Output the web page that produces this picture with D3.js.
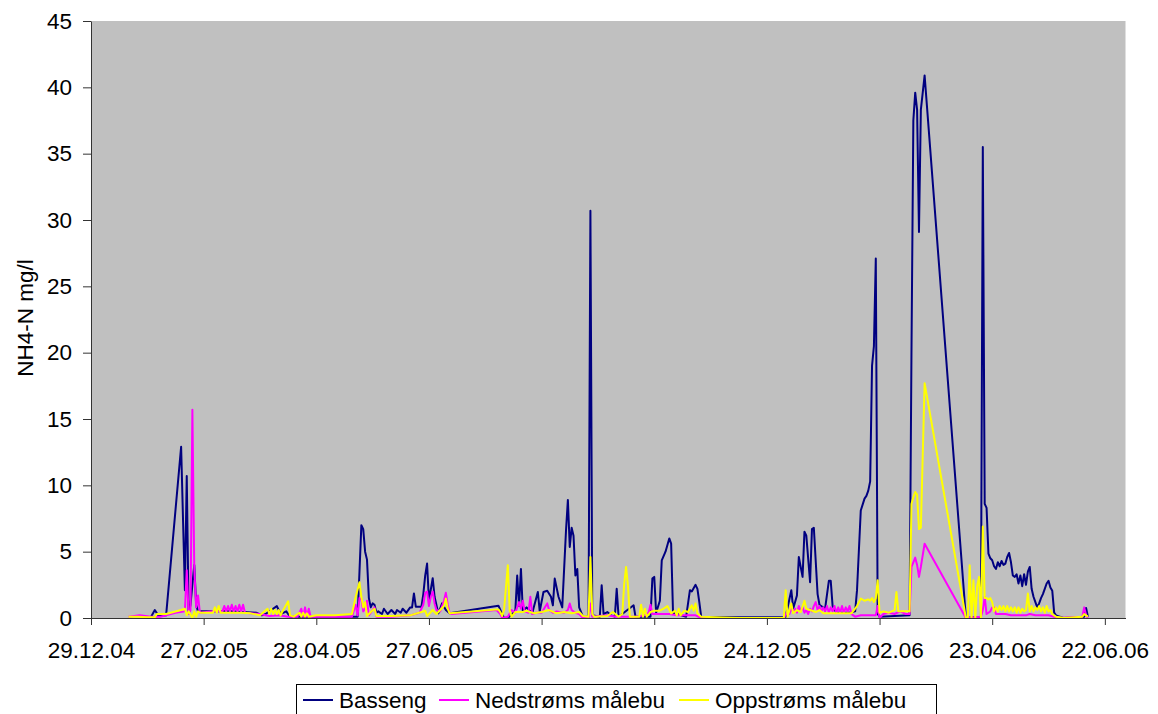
<!DOCTYPE html>
<html lang="no">
<head>
    <meta charset="UTF-8">
    <title>NH4-N</title>
    <script src="https://cdn.jsdelivr.net/npm/d3@7"></script>
    <style>
        body { margin: 0; background: #fff; }
        text { font-family: "Liberation Sans", Arial, sans-serif; fill: #000; }
    </style>
</head>
<body>
<script>

    const width = 1158;
    const height = 714;

    const seriesNames = ["Basseng", "Nedstrøms målebu", "Oppstrøms målebu"];
    const seriesColors = ["#000080", "#FF00FF", "#FFFF00"];

    const tickLabels = ["29.12.04", "27.02.05", "28.04.05", "27.06.05", "26.08.05",
        "25.10.05", "24.12.05", "22.02.06", "23.04.06", "22.06.06"];
    const yTicks = [0, 5, 10, 15, 20, 25, 30, 35, 40, 45];
    const dateRange = ["29.12.04", "03.07.06"];

    const basseng = [
        ["30.01.05",0.1],["01.02.05",0.6],["03.02.05",0.15],["07.02.05",0.2],["15.02.05",12.9],
        ["17.02.05",2.1],["18.02.05",10.7],["19.02.05",0.3],["20.02.05",1.0],["22.02.05",4.0],
        ["23.02.05",1.0],["24.02.05",0.5],["13.03.05",0.5],["27.03.05",0.4],["30.03.05",0.2],
        ["01.04.05",0.3],["04.04.05",0.6],["07.04.05",0.9],["09.04.05",0.3],["12.04.05",0.5],
        ["14.04.05",0.1],["20.04.05",0.1],["18.05.05",0.1],["20.05.05",0.1],["21.05.05",3.5],
        ["22.05.05",7.0],["23.05.05",6.7],["24.05.05",5.0],["25.05.05",4.4],["26.05.05",1.5],
        ["27.05.05",0.8],["28.05.05",1.1],["29.05.05",1.0],["30.05.05",0.4],["31.05.05",0.5],
        ["02.06.05",0.3],["03.06.05",0.7],["05.06.05",0.3],["07.06.05",0.6],["09.06.05",0.3],
        ["10.06.05",0.6],["12.06.05",0.4],["13.06.05",0.7],["15.06.05",0.4],["17.06.05",0.8],
        ["18.06.05",0.8],["19.06.05",1.85],["20.06.05",0.85],["23.06.05",0.85],["24.06.05",1.8],
        ["25.06.05",3.2],["26.06.05",4.1],["27.06.05",1.3],["29.06.05",3.0],["30.06.05",1.6],
        ["02.07.05",0.35],["04.07.05",1.1],["06.07.05",0.6],["08.07.05",0.35],["03.08.05",0.93],
        ["05.08.05",0.3],["06.08.05",0.0],["08.08.05",0.0],["12.08.05",0.5],["13.08.05",3.2],
        ["14.08.05",0.9],["15.08.05",3.7],["16.08.05",0.5],["18.08.05",0.8],["21.08.05",0.35],
        ["24.08.05",1.96],["25.08.05",0.5],["27.08.05",1.96],["29.08.05",2.05],["31.08.05",1.6],
        ["01.09.05",0.95],["02.09.05",2.97],["04.09.05",1.6],["06.09.05",0.8],["08.09.05",6.6],
        ["09.09.05",8.9],["10.09.05",5.35],["11.09.05",6.8],["12.09.05",6.2],["13.09.05",3.2],
        ["14.09.05",3.7],["15.09.05",0.8],["17.09.05",0.1],["20.09.05",0.1],["21.09.05",30.7],
        ["22.09.05",0.2],["26.09.05",0.1],["27.09.05",2.47],["28.09.05",0.3],["30.09.05",0.45],
        ["02.10.05",0.2],["04.10.05",0.1],["05.10.05",2.2],["06.10.05",0.1],["14.10.05",0.96],
        ["15.10.05",0.1],["23.10.05",0.1],["24.10.05",2.97],["25.10.05",3.1],["26.10.05",0.4],
        ["28.10.05",1.3],["29.10.05",4.35],["31.10.05",5.0],["02.11.05",6.0],["03.11.05",5.6],
        ["04.11.05",0.4],["11.11.05",0.1],["13.11.05",2.1],["14.11.05",2.0],["16.11.05",2.5],
        ["17.11.05",2.2],["18.11.05",1.2],["19.11.05",0.1],["09.12.05",0.05],["02.01.06",0.05],
        ["03.01.06",0.1],["06.01.06",2.1],["07.01.06",0.7],["09.01.06",1.7],["10.01.06",4.6],
        ["12.01.06",3.1],["13.01.06",6.5],["14.01.06",6.2],["16.01.06",2.7],["17.01.06",6.7],
        ["18.01.06",6.8],["20.01.06",1.8],["21.01.06",1.0],["24.01.06",0.7],["26.01.06",2.8],
        ["27.01.06",2.8],["28.01.06",0.9],["30.01.06",0.4],["06.02.06",0.4],["09.02.06",0.5],
        ["10.02.06",2.1],["12.02.06",8.1],["14.02.06",9.0],["15.02.06",9.2],["16.02.06",9.6],
        ["17.02.06",10.3],["18.02.06",19.0],["19.02.06",20.5],["20.02.06",27.1],["21.02.06",0.3],
        ["22.02.06",0.1],["10.03.06",0.2],["11.03.06",20.0],["12.03.06",37.5],["13.03.06",39.6],
        ["14.03.06",38.3],["15.03.06",29.1],["16.03.06",38.3],["18.03.06",40.9],["09.04.06",0.0],
        ["17.04.06",0.1],["18.04.06",35.5],["19.04.06",8.6],["20.04.06",8.3],["21.04.06",4.85],
        ["22.04.06",4.5],["23.04.06",4.35],["24.04.06",3.9],["25.04.06",3.7],["26.04.06",4.2],
        ["27.04.06",3.9],["28.04.06",4.3],["29.04.06",4.0],["30.04.06",4.1],["01.05.06",4.6],
        ["02.05.06",4.9],["03.05.06",4.2],["04.05.06",3.2],["05.05.06",3.1],["06.05.06",3.3],
        ["07.05.06",2.6],["08.05.06",3.2],["09.05.06",2.4],["10.05.06",3.3],["11.05.06",2.5],
        ["12.05.06",3.5],["13.05.06",3.85],["14.05.06",2.2],["15.05.06",1.6],["16.05.06",1.2],
        ["17.05.06",0.8],["18.05.06",1.1],["19.05.06",1.5],["20.05.06",1.8],["21.05.06",2.2],
        ["22.05.06",2.6],["23.05.06",2.8],["24.05.06",2.3],["25.05.06",2.05],["26.05.06",0.4],
        ["27.05.06",0.2],["29.05.06",0.1],["31.05.06",0.0],["11.06.06",0.1],["12.06.06",0.75],
        ["13.06.06",0.1]
    ];

    const nedstroms = [
        ["18.01.05",0.1],["24.01.05",0.2],["30.01.05",0.1],["04.02.05",0.1],["12.02.05",0.4],
        ["17.02.05",0.5],["18.02.05",3.6],["19.02.05",0.3],["20.02.05",0.6],["21.02.05",15.7],
        ["22.02.05",3.8],["23.02.05",0.8],["24.02.05",1.7],["25.02.05",0.4],["04.03.05",0.5],
        ["09.03.05",0.5],["10.03.05",0.9],["11.03.05",0.5],["12.03.05",0.9],["13.03.05",0.5],
        ["14.03.05",1.0],["15.03.05",0.5],["16.03.05",0.9],["17.03.05",0.5],["18.03.05",1.0],
        ["19.03.05",0.5],["20.03.05",1.0],["21.03.05",0.4],["29.03.05",0.3],["03.04.05",0.15],
        ["08.04.05",0.2],["13.04.05",0.1],["18.04.05",0.1],["20.04.05",0.7],["21.04.05",0.1],
        ["22.04.05",0.8],["23.04.05",0.1],["24.04.05",0.7],["25.04.05",0.1],["28.04.05",0.1],
        ["17.05.05",0.1],["19.05.05",1.0],["20.05.05",0.2],["21.05.05",1.5],["22.05.05",1.4],
        ["23.05.05",0.5],["24.05.05",0.7],["25.05.05",1.3],["26.05.05",0.2],["27.05.05",0.4],
        ["29.05.05",0.8],["30.05.05",0.1],["07.06.05",0.1],["17.06.05",0.2],["22.06.05",0.4],
        ["24.06.05",1.0],["25.06.05",1.9],["26.06.05",2.0],["27.06.05",0.9],["28.06.05",1.6],
        ["29.06.05",2.0],["30.06.05",1.1],["01.07.05",0.6],["03.07.05",0.5],["04.07.05",0.9],
        ["05.07.05",1.3],["06.07.05",1.9],["07.07.05",1.0],["08.07.05",0.4],["09.07.05",0.3],
        ["02.08.05",0.6],["04.08.05",0.3],["05.08.05",0.0],["08.08.05",0.1],["10.08.05",0.6],
        ["12.08.05",0.4],["14.08.05",1.2],["15.08.05",0.7],["16.08.05",1.3],["17.08.05",0.5],
        ["19.08.05",0.4],["20.08.05",1.6],["21.08.05",0.3],["23.08.05",0.4],["26.08.05",0.4],
        ["29.08.05",1.1],["30.08.05",0.6],["01.09.05",0.4],["03.09.05",0.5],["07.09.05",0.4],
        ["09.09.05",0.6],["10.09.05",1.1],["11.09.05",0.6],["13.09.05",0.4],["15.09.05",0.3],
        ["17.09.05",0.0],["20.09.05",0.0],["21.09.05",1.1],["22.09.05",0.1],["30.09.05",0.2],
        ["05.10.05",0.1],["15.10.05",0.1],["20.10.05",0.2],["22.10.05",0.4],["23.10.05",1.0],
        ["24.10.05",0.3],["30.10.05",0.3],["02.11.05",0.3],["06.11.05",0.2],["12.11.05",0.2],
        ["16.11.05",0.2],["19.11.05",0.0],["02.01.06",0.0],["04.01.06",0.5],["05.01.06",0.3],
        ["06.01.06",0.8],["07.01.06",0.4],["08.01.06",0.7],["09.01.06",0.4],["10.01.06",0.9],
        ["11.01.06",0.5],["12.01.06",0.8],["13.01.06",0.4],["14.01.06",0.6],["15.01.06",0.3],
        ["16.01.06",0.7],["17.01.06",0.5],["18.01.06",0.9],["19.01.06",1.2],["20.01.06",0.6],
        ["21.01.06",0.9],["22.01.06",0.5],["23.01.06",0.8],["24.01.06",0.5],["25.01.06",0.9],
        ["26.01.06",0.4],["27.01.06",0.8],["28.01.06",0.5],["29.01.06",0.9],["30.01.06",0.4],
        ["31.01.06",0.8],["01.02.06",0.4],["02.02.06",0.9],["03.02.06",0.4],["04.02.06",0.8],
        ["05.02.06",0.5],["06.02.06",0.9],["07.02.06",0.3],["08.02.06",0.2],["09.02.06",0.1],
        ["12.02.06",0.2],["16.02.06",0.2],["20.02.06",0.2],["21.02.06",0.9],["22.02.06",0.0],
        ["24.02.06",0.3],["27.02.06",0.4],["02.03.06",0.3],["05.03.06",0.5],["08.03.06",0.3],
        ["10.03.06",0.3],["11.03.06",3.85],["12.03.06",4.2],["13.03.06",4.55],["14.03.06",4.0],
        ["15.03.06",3.1],["16.03.06",3.85],["18.03.06",5.6],["09.04.06",0.0],["17.04.06",0.1],
        ["18.04.06",0.6],["19.04.06",1.6],["20.04.06",0.3],["21.04.06",0.4],["22.04.06",0.5],
        ["23.04.06",0.8],["24.04.06",0.8],["25.04.06",0.3],["27.04.06",0.3],["30.04.06",0.3],
        ["03.05.06",0.2],["08.05.06",0.2],["11.05.06",0.2],["13.05.06",0.3],["16.05.06",0.2],
        ["19.05.06",0.2],["23.05.06",0.2],["26.05.06",0.1],["28.05.06",0.0],["10.06.06",0.1],
        ["11.06.06",0.8],["12.06.06",0.2],["13.06.06",0.0]
    ];

    const oppstroms = [
        ["18.01.05",0.1],["23.01.05",0.1],["28.01.05",0.05],["01.02.05",0.05],["02.02.05",0.3],
        ["07.02.05",0.3],["15.02.05",0.6],["17.02.05",0.7],["18.02.05",0.2],["19.02.05",0.5],
        ["21.02.05",0.0],["22.02.05",0.5],["23.02.05",0.1],["24.02.05",0.5],["25.02.05",0.4],
        ["04.03.05",0.4],["05.03.05",0.8],["06.03.05",0.4],["07.03.05",0.9],["08.03.05",0.4],
        ["14.03.05",0.4],["19.03.05",0.4],["24.03.05",0.35],["29.03.05",0.2],["02.04.05",0.7],
        ["03.04.05",0.3],["04.04.05",0.7],["05.04.05",0.3],["06.04.05",0.6],["07.04.05",0.3],
        ["08.04.05",0.6],["09.04.05",0.2],["10.04.05",0.5],["13.04.05",1.26],["14.04.05",0.2],
        ["16.04.05",0.1],["19.04.05",0.4],["20.04.05",0.1],["21.04.05",0.4],["22.04.05",0.1],
        ["23.04.05",0.35],["24.04.05",0.1],["28.04.05",0.2],["08.05.05",0.2],["17.05.05",0.3],
        ["19.05.05",1.6],["21.05.05",2.7],["22.05.05",1.6],["23.05.05",0.8],["24.05.05",1.2],
        ["25.05.05",0.15],["27.05.05",0.45],["29.05.05",0.7],["30.05.05",0.15],["07.06.05",0.15],
        ["17.06.05",0.2],["23.06.05",0.45],["25.06.05",0.55],["26.06.05",0.15],["29.06.05",0.6],
        ["01.07.05",0.3],["03.07.05",0.6],["05.07.05",0.9],["06.07.05",1.46],["07.07.05",0.7],
        ["08.07.05",0.35],["03.08.05",0.65],["04.08.05",0.45],["05.08.05",0.15],["06.08.05",0.6],
        ["08.08.05",3.97],["09.08.05",0.6],["10.08.05",0.1],["12.08.05",0.45],["16.08.05",0.45],
        ["18.08.05",0.55],["22.08.05",0.35],["26.08.05",0.45],["30.08.05",0.6],["03.09.05",0.35],
        ["07.09.05",0.45],["11.09.05",0.35],["15.09.05",0.45],["17.09.05",0.15],["20.09.05",0.1],
        ["21.09.05",4.6],["22.09.05",0.3],["23.09.05",0.1],["30.09.05",0.15],["03.10.05",0.45],
        ["06.10.05",0.1],["08.10.05",0.3],["09.10.05",2.6],["10.10.05",3.85],["11.10.05",2.4],
        ["12.10.05",0.1],["17.10.05",0.1],["18.10.05",1.0],["19.10.05",0.1],["20.10.05",0.7],
        ["21.10.05",0.1],["23.10.05",0.45],["25.10.05",0.55],["28.10.05",0.55],["30.10.05",0.7],
        ["01.11.05",0.9],["03.11.05",0.35],["05.11.05",0.55],["06.11.05",0.2],["07.11.05",0.7],
        ["08.11.05",0.2],["10.11.05",0.55],["12.11.05",0.45],["14.11.05",0.96],["15.11.05",0.55],
        ["16.11.05",1.1],["17.11.05",0.35],["19.11.05",0.1],["09.12.05",0.0],["02.01.06",0.0],
        ["03.01.06",2.1],["04.01.06",0.1],["06.01.06",1.1],["07.01.06",0.35],["09.01.06",0.6],
        ["11.01.06",0.45],["13.01.06",1.3],["14.01.06",0.7],["16.01.06",0.6],["19.01.06",0.45],
        ["21.01.06",0.6],["23.01.06",0.35],["28.01.06",0.35],["02.02.06",0.35],["07.02.06",0.35],
        ["10.02.06",0.9],["12.02.06",1.46],["14.02.06",1.3],["16.02.06",1.4],["17.02.06",1.3],
        ["18.02.06",1.5],["19.02.06",1.2],["20.02.06",1.5],["21.02.06",2.85],["22.02.06",0.4],
        ["24.02.06",0.5],["27.02.06",0.4],["02.03.06",0.6],["03.03.06",1.96],["04.03.06",0.5],
        ["07.03.06",0.5],["10.03.06",0.5],["11.03.06",8.6],["12.03.06",9.1],["13.03.06",9.5],
        ["14.03.06",9.3],["15.03.06",6.7],["16.03.06",6.8],["18.03.06",17.7],["09.04.06",0.0],
        ["10.04.06",0.0],["11.04.06",3.97],["12.04.06",0.0],["13.04.06",2.85],["14.04.06",0.0],
        ["15.04.06",2.4],["16.04.06",3.1],["17.04.06",0.0],["18.04.06",6.9],["19.04.06",1.5],
        ["20.04.06",1.5],["21.04.06",1.4],["22.04.06",1.5],["23.04.06",1.2],["24.04.06",0.5],
        ["25.04.06",0.8],["26.04.06",0.5],["27.04.06",0.9],["28.04.06",0.6],["29.04.06",0.9],
        ["30.04.06",0.5],["01.05.06",0.9],["02.05.06",0.5],["03.05.06",0.8],["04.05.06",0.5],
        ["05.05.06",0.8],["06.05.06",0.4],["07.05.06",0.8],["08.05.06",0.4],["09.05.06",0.7],
        ["10.05.06",0.5],["11.05.06",0.6],["12.05.06",1.84],["13.05.06",0.5],["14.05.06",0.9],
        ["15.05.06",0.5],["16.05.06",0.8],["17.05.06",0.6],["18.05.06",0.9],["19.05.06",0.5],
        ["20.05.06",0.8],["21.05.06",0.4],["22.05.06",0.9],["23.05.06",0.5],["24.05.06",0.6],
        ["25.05.06",0.3],["26.05.06",0.2],["27.05.06",0.1],["29.05.06",0.05],["31.05.06",0.0],
        ["10.06.06",0.1],["11.06.06",0.3],["12.06.06",0.2],["13.06.06",0.1]
    ];

    const parse = d3.timeParse("%d.%m.%y");
    const fmt = d3.timeFormat("%d.%m.%y");

    const plot = {left: 91, right: 1125.5, top: 21, bottom: 618};

    const x = d3.scaleTime()
            .domain(dateRange.map(parse))
            .range([plot.left, plot.right]);
    const y = d3.scaleLinear()
            .domain([0, 45])
            .range([plot.bottom, plot.top]);

    const svg = d3.select("body").append("svg")
            .attr("width", width).attr("height", height);

    svg.append("rect")
            .attr("x", plot.left).attr("y", plot.top)
            .attr("width", plot.right - plot.left)
            .attr("height", plot.bottom - plot.top)
            .attr("fill", "#C0C0C0");

    const line = d3.line()
            .x(d => x(parse(d[0])))
            .y(d => y(d[1]));

    [basseng, nedstroms, oppstroms].forEach(function(s, i) {
        svg.append("path")
                .datum(s)
                .attr("fill", "none")
                .attr("stroke", seriesColors[i])
                .attr("stroke-width", 2)
                .attr("stroke-linejoin", "round")
                .attr("d", line);
    });

    // axes
    const yAxis = svg.append("g")
            .attr("transform", "translate(" + plot.left + ",0)")
            .call(d3.axisLeft(y).tickValues(yTicks).tickSize(8).tickSizeOuter(0).tickPadding(11));
    const xAxis = svg.append("g")
            .attr("transform", "translate(0," + plot.bottom + ")")
            .call(d3.axisBottom(x).tickValues(tickLabels.map(parse)).tickFormat(fmt)
                    .tickSize(7).tickSizeOuter(0).tickPadding(17));

    [yAxis, xAxis].forEach(function(g) {
        g.selectAll("path, line").attr("stroke", "#333");
        g.selectAll("text")
                .style("font-family", "'Liberation Sans', Arial, sans-serif")
                .style("font-size", "22.5px")
                .attr("fill", "#000");
    });

    svg.append("text")
            .attr("transform", "translate(33,318) rotate(-90)")
            .attr("text-anchor", "middle")
            .style("font-size", "22.5px")
            .text("NH4-N mg/l");

    // legend
    const legend = svg.append("g");
    legend.append("rect")
            .attr("x", 296.5).attr("y", 684.5)
            .attr("width", 640).attr("height", 40)
            .attr("fill", "#fff").attr("stroke", "#000");

    const legendX = [303, 439, 679];
    seriesNames.forEach(function(name, i) {
        legend.append("line")
                .attr("x1", legendX[i]).attr("x2", legendX[i] + 30)
                .attr("y1", 700).attr("y2", 700)
                .attr("stroke", seriesColors[i]).attr("stroke-width", 2);
        legend.append("text")
                .attr("x", legendX[i] + 36).attr("y", 700)
                .attr("dy", "0.35em")
                .style("font-size", "22.5px")
                .text(name);
    });

</script>
</body>
</html>
